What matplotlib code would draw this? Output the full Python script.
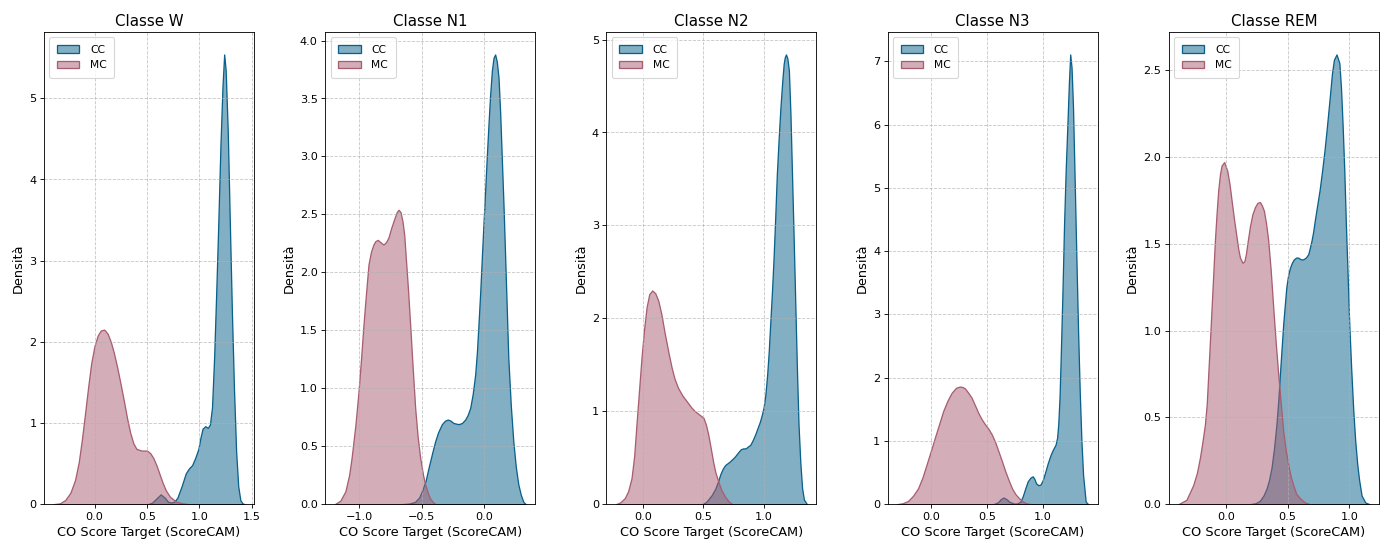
import matplotlib
matplotlib.use("Agg")
import matplotlib.pyplot as plt
from matplotlib.colors import to_rgba

# classi e colori
classes = ["W", "N1", "N2", "N3", "REM"]
cc_color = "#08618a"
mc_color = "#a85d70"

# curve di densita' (x, densita')
w_cc_x = [0.51, 0.55, 0.59, 0.63, 0.67, 0.70, 0.73, 0.76, 0.79, 0.83, 0.87, 0.90, 0.93, 0.96, 0.99, 1.01,
          1.03, 1.056, 1.08, 1.10, 1.12, 1.14, 1.16, 1.18, 1.20, 1.22, 1.236, 1.25, 1.27, 1.29, 1.31, 1.33,
          1.35, 1.37, 1.39, 1.41, 1.43]
w_cc_y = [0, 0.02, 0.07, 0.12, 0.08, 0.03, 0.02, 0.03, 0.08, 0.22, 0.38, 0.44, 0.48, 0.57, 0.68, 0.82,
          0.93, 0.96, 0.94, 0.98, 1.19, 1.80, 2.60, 3.46, 4.40, 5.15, 5.54, 5.35, 4.60, 3.46, 2.35, 1.40,
          0.65, 0.22, 0.05, 0.01, 0]
w_mc_x = [-0.39, -0.33, -0.28, -0.23, -0.185, -0.15, -0.12, -0.09, -0.06, -0.031, 0.0, 0.031, 0.06, 0.093,
          0.125, 0.155, 0.185, 0.217, 0.25, 0.28, 0.31, 0.34, 0.37, 0.40, 0.45, 0.50, 0.53, 0.56, 0.59,
          0.62, 0.65, 0.68, 0.72, 0.78, 0.84, 0.90]
w_mc_y = [0, 0.01, 0.05, 0.14, 0.30, 0.52, 0.80, 1.12, 1.45, 1.74, 1.95, 2.08, 2.14, 2.15, 2.10, 2.00,
          1.86, 1.68, 1.47, 1.27, 1.06, 0.88, 0.75, 0.68, 0.66, 0.66, 0.63, 0.57, 0.48, 0.37, 0.26, 0.17,
          0.09, 0.03, 0.01, 0]

n1_cc_x = [-0.66, -0.60, -0.553, -0.52, -0.50, -0.47, -0.447, -0.42, -0.394, -0.37, -0.34, -0.315,
           -0.293, -0.27, -0.247, -0.207, -0.18, -0.154, -0.134, -0.114, -0.094, -0.074, -0.06, -0.048,
           -0.034, -0.021, -0.008, 0.005, 0.018, 0.032, 0.045, 0.059, 0.072, 0.085, 0.098, 0.112, 0.125,
           0.138, 0.152, 0.165, 0.178, 0.19, 0.21, 0.23, 0.25, 0.27, 0.29, 0.31, 0.329]
n1_cc_y = [0, 0.005, 0.02, 0.06, 0.11, 0.20, 0.31, 0.43, 0.54, 0.62, 0.69, 0.72, 0.73, 0.72, 0.70, 0.69,
           0.70, 0.73, 0.77, 0.83, 0.95, 1.12, 1.32, 1.55, 1.83, 2.13, 2.42, 2.70, 2.99, 3.28, 3.53, 3.74,
           3.85, 3.88, 3.82, 3.68, 3.38, 2.99, 2.57, 2.13, 1.68, 1.26, 0.85, 0.54, 0.32, 0.17, 0.08, 0.02, 0]
n1_mc_x = [-1.194, -1.15, -1.11, -1.08, -1.06, -1.03, -1.005, -0.985, -0.965, -0.945, -0.925, -0.905,
           -0.886, -0.87, -0.851, -0.83, -0.806, -0.786, -0.766, -0.745, -0.72, -0.70, -0.686, -0.67,
           -0.654, -0.64, -0.628, -0.61, -0.593, -0.573, -0.553, -0.533, -0.513, -0.49, -0.473, -0.45,
           -0.434, -0.41, -0.39]
n1_mc_y = [0, 0.03, 0.11, 0.25, 0.40, 0.68, 0.97, 1.25, 1.55, 1.82, 2.07, 2.18, 2.24, 2.27, 2.28, 2.26,
           2.24, 2.26, 2.30, 2.38, 2.46, 2.52, 2.54, 2.52, 2.44, 2.32, 2.13, 1.85, 1.55, 1.18, 0.83, 0.58,
           0.40, 0.25, 0.17, 0.09, 0.05, 0.015, 0]

n2_cc_x = [0.486, 0.52, 0.54, 0.57, 0.60, 0.62, 0.64, 0.66, 0.68, 0.70, 0.72, 0.76, 0.79, 0.81, 0.83,
           0.85, 0.87, 0.89, 0.91, 0.93, 0.95, 0.97, 0.985, 1.0, 1.015, 1.03, 1.043, 1.055, 1.07, 1.083,
           1.097, 1.11, 1.125, 1.14, 1.155, 1.167, 1.176, 1.186, 1.197, 1.21, 1.223, 1.236, 1.25, 1.264,
           1.277, 1.29, 1.305, 1.32, 1.335, 1.36]
n2_cc_y = [0, 0.02, 0.05, 0.10, 0.17, 0.24, 0.32, 0.38, 0.42, 0.44, 0.46, 0.51, 0.56, 0.59, 0.60, 0.60,
           0.62, 0.64, 0.69, 0.75, 0.82, 0.89, 0.96, 1.04, 1.18, 1.40, 1.65, 1.94, 2.30, 2.65, 3.10, 3.55,
           3.93, 4.27, 4.55, 4.74, 4.81, 4.84, 4.80, 4.67, 4.20, 3.55, 2.85, 2.12, 1.45, 0.86, 0.45, 0.17,
           0.05, 0]
n2_mc_x = [-0.226, -0.19, -0.153, -0.125, -0.097, -0.075, -0.056, -0.035, -0.014, 0.007, 0.028, 0.05,
           0.075, 0.10, 0.125, 0.15, 0.18, 0.21, 0.236, 0.26, 0.29, 0.325, 0.36, 0.40, 0.43, 0.47, 0.50,
           0.52, 0.54, 0.56, 0.58, 0.60, 0.625, 0.65, 0.68, 0.71, 0.74]
n2_mc_y = [0, 0.02, 0.065, 0.14, 0.28, 0.52, 0.86, 1.22, 1.58, 1.88, 2.12, 2.26, 2.30, 2.27, 2.19, 2.05,
           1.83, 1.63, 1.47, 1.35, 1.25, 1.17, 1.11, 1.04, 1.0, 0.96, 0.93, 0.86, 0.75, 0.61, 0.46, 0.34,
           0.24, 0.15, 0.08, 0.03, 0]

n3_cc_x = [0.56, 0.60, 0.625, 0.65, 0.675, 0.70, 0.74, 0.77, 0.80, 0.82, 0.844, 0.865, 0.89, 0.91, 0.925,
           0.94, 0.96, 0.98, 1.0, 1.024, 1.045, 1.07, 1.09, 1.114, 1.128, 1.138, 1.15, 1.16, 1.175, 1.19,
           1.205, 1.22, 1.233, 1.245, 1.257, 1.27, 1.285, 1.30, 1.315, 1.33, 1.345, 1.36, 1.383, 1.405]
n3_cc_y = [0, 0.03, 0.08, 0.105, 0.08, 0.04, 0.01, 0.01, 0.04, 0.12, 0.25, 0.36, 0.42, 0.44, 0.40, 0.33,
           0.30, 0.31, 0.38, 0.52, 0.65, 0.78, 0.86, 0.94, 1.05, 1.26, 1.70, 2.31, 3.30, 4.42, 5.30, 6.01,
           6.65, 7.11, 6.90, 6.27, 5.10, 3.90, 2.75, 1.78, 1.00, 0.46, 0.04, 0]
n3_mc_x = [-0.30, -0.25, -0.204, -0.16, -0.114, -0.075, -0.039, 0.0, 0.036, 0.075, 0.11, 0.15, 0.186,
           0.225, 0.26, 0.285, 0.305, 0.335, 0.365, 0.395, 0.425, 0.455, 0.485, 0.515, 0.545, 0.575, 0.605,
           0.635, 0.665, 0.695, 0.725, 0.755, 0.785, 0.815, 0.844, 0.875, 0.904]
n3_mc_y = [0, 0.015, 0.05, 0.13, 0.25, 0.42, 0.62, 0.84, 1.05, 1.27, 1.47, 1.64, 1.76, 1.84, 1.86, 1.85,
           1.83, 1.76, 1.68, 1.56, 1.44, 1.34, 1.26, 1.19, 1.10, 0.98, 0.83, 0.68, 0.52, 0.38, 0.25, 0.16,
           0.10, 0.05, 0.02, 0.005, 0]

rem_cc_x = [0.195, 0.24, 0.276, 0.305, 0.33, 0.35, 0.37, 0.39, 0.41, 0.425, 0.438, 0.452, 0.465, 0.478,
            0.49, 0.505, 0.519, 0.535, 0.551, 0.57, 0.586, 0.607, 0.627, 0.648, 0.668, 0.682, 0.695, 0.708,
            0.72, 0.74, 0.76, 0.78, 0.80, 0.82, 0.843, 0.86, 0.876, 0.897, 0.92, 0.933, 0.946, 0.96, 0.973,
            0.987, 1.0, 1.016, 1.032, 1.048, 1.065, 1.08, 1.10, 1.13, 1.163]
rem_cc_y = [0, 0.005, 0.02, 0.05, 0.09, 0.14, 0.21, 0.32, 0.46, 0.60, 0.75, 0.90, 1.04, 1.15, 1.25, 1.32,
            1.36, 1.39, 1.41, 1.42, 1.42, 1.41, 1.41, 1.42, 1.44, 1.48, 1.52, 1.57, 1.63, 1.72, 1.81, 1.92,
            2.04, 2.18, 2.35, 2.48, 2.56, 2.59, 2.54, 2.40, 2.19, 1.92, 1.61, 1.32, 1.04, 0.78, 0.55, 0.37,
            0.23, 0.14, 0.05, 0.01, 0]
rem_mc_x = [-0.385, -0.32, -0.265, -0.235, -0.21, -0.19, -0.17, -0.155, -0.143, -0.13, -0.116, -0.10,
            -0.089, -0.075, -0.062, -0.048, -0.035, -0.014, 0.011, 0.03, 0.046, 0.066, 0.086, 0.10, 0.114,
            0.135, 0.15, 0.162, 0.178, 0.195, 0.215, 0.235, 0.255, 0.276, 0.292, 0.308, 0.325, 0.343,
            0.363, 0.384, 0.404, 0.424, 0.445, 0.465, 0.485, 0.505, 0.525, 0.546, 0.57, 0.60, 0.64, 0.68]
rem_mc_y = [0, 0.025, 0.11, 0.18, 0.27, 0.36, 0.46, 0.58, 0.75, 0.93, 1.13, 1.36, 1.52, 1.68, 1.81, 1.90,
            1.95, 1.97, 1.92, 1.84, 1.75, 1.64, 1.54, 1.47, 1.42, 1.39, 1.40, 1.44, 1.52, 1.60, 1.67, 1.71,
            1.735, 1.74, 1.72, 1.69, 1.62, 1.52, 1.35, 1.13, 0.93, 0.75, 0.58, 0.42, 0.31, 0.23, 0.16, 0.11,
            0.06, 0.035, 0.01, 0]

cc_curves = [(w_cc_x, w_cc_y), (n1_cc_x, n1_cc_y), (n2_cc_x, n2_cc_y), (n3_cc_x, n3_cc_y), (rem_cc_x, rem_cc_y)]
mc_curves = [(w_mc_x, w_mc_y), (n1_mc_x, n1_mc_y), (n2_mc_x, n2_mc_y), (n3_mc_x, n3_mc_y), (rem_mc_x, rem_mc_y)]


def draw_kde(ax, x, y, color, label):
    ax.fill_between(x, y, facecolor=to_rgba(color, 0.5), edgecolor=color, linewidth=1.2, label=label)


fig, axes = plt.subplots(1, 5, figsize=(18, 7.097))
fig.subplots_adjust(left=0.0317, right=0.992, bottom=0.080, top=0.9416, wspace=0.339)

for ax, name, cc, mc in zip(axes, classes, cc_curves, mc_curves):
    draw_kde(ax, cc[0], cc[1], cc_color, "CC")
    draw_kde(ax, mc[0], mc[1], mc_color, "MC")
    ax.set_ylim(bottom=0)
    ax.set_title("Classe " + name, fontsize=14)
    ax.set_xlabel("CO Score Target (ScoreCAM)", fontsize=12)
    ax.set_ylabel("Densità", fontsize=12)
    ax.tick_params(labelsize=10.5)
    ax.grid(True, linestyle="--", alpha=0.7)
    ax.legend(loc="upper left", fontsize=10, borderpad=0.7, handlelength=2.1, handletextpad=1.0)

fig.savefig("out.png", dpi=1390 / 18)
